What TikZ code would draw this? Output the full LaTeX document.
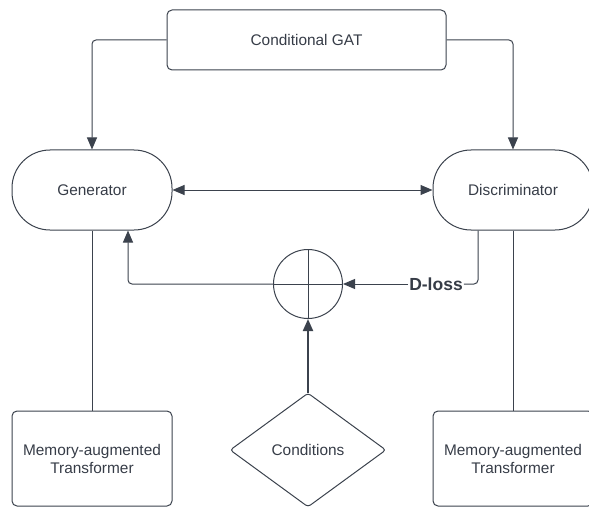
\documentclass[tikz,border=0pt]{standalone}
\usepackage{fontspec}
\setmainfont{Liberation Sans}
\usetikzlibrary{arrows.meta,shapes.geometric}
\definecolor{ln}{HTML}{3B424D}
\definecolor{tx}{HTML}{363C47}
\tikzset{
  base/.style={draw=ln, line width=1pt, text=tx, font=\fontsize{15.4}{18}\selectfont, align=center, inner sep=0pt},
  stadium/.style={base, rectangle, rounded corners=38pt, minimum width=160pt, minimum height=80pt},
  boxr/.style={base, rectangle, rounded corners=5pt},
  conn/.style={draw=ln, line width=1pt, rounded corners=4pt},
  tri/.tip={Triangle[length=12pt,width=10pt]},
  tip/.style={-tri},
}
\begin{document}
\begin{tikzpicture}[x=1pt,y=-1pt]
\useasboundingbox (0,0) rectangle (589,508);
\node[boxr, minimum width=279pt, minimum height=60pt] (gat) at (306.5,40) {Conditional GAT};
\node[stadium] (gen) at (92,190) {Generator};
\node[stadium] (disc) at (513,190) {Discriminator};
\node[boxr, minimum width=160pt, minimum height=95pt] (memL) at (92,458.5) {Memory-augmented\\Transformer};
\node[boxr, minimum width=160pt, minimum height=95pt] (memR) at (513,458.5) {Memory-augmented\\Transformer};
\node[base, diamond, minimum width=156pt, minimum height=114pt, rounded corners=3pt] (cond) at (308,450) {Conditions};
\node[base, circle, minimum size=69pt] (sum) at (308,284) {};
\draw[ln, line width=1pt] (sum.north) -- (sum.south) (sum.west) -- (sum.east);
\node[font=\bfseries\fontsize{17.5}{20}\selectfont, text=tx, fill=white, inner sep=1pt] (dl) at (436,284) {D-loss};
\coordinate (dc) at (478,284);
\coordinate (gc) at (128,284);

\draw[conn, tip] (gat.west) -| (gen.north);
\draw[conn, tip] (gat.east) -| (disc.north);
\draw[conn, tri-tri] (gen.east) -- (disc.west);
\draw[conn] (gen.south) -- (memL.north);
\draw[draw=ln, line width=0.6pt] (disc.south) -- (memR.north);
\draw[conn] (disc.south -| dc) |- (dl.east);
\draw[conn, tip] (dl.west) -- (sum.east);
\draw[conn, tip] (sum.west) -| (gen.south -| gc);
\draw[draw=ln, line width=2pt, tip] (cond.north) -- (sum.south);
\end{tikzpicture}
\end{document}
